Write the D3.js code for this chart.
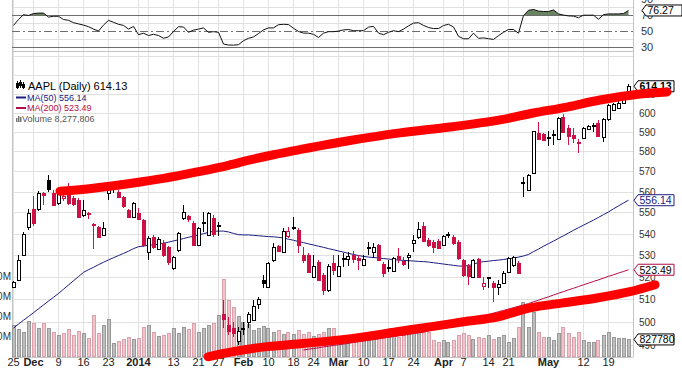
<!DOCTYPE html>
<html>
<head>
<meta charset="utf-8">
<script src="https://cdn.jsdelivr.net/npm/d3@7"></script>
<style>
  body { margin: 0; background: #fff; }
  svg { display: block; }
  text { font-family: "Liberation Sans", Arial, sans-serif; }
</style>
</head>
<body>
<svg id="chart" width="682" height="368"></svg>
<script>
// ---- data (AAPL daily) ----
var dates = ('2013-11-25 2013-11-26 2013-11-27 2013-11-29 ' +
  '2013-12-02 2013-12-03 2013-12-04 2013-12-05 2013-12-06 2013-12-09 2013-12-10 2013-12-11 2013-12-12 2013-12-13 ' +
  '2013-12-16 2013-12-17 2013-12-18 2013-12-19 2013-12-20 2013-12-23 2013-12-24 2013-12-26 2013-12-27 2013-12-30 2013-12-31 ' +
  '2014-01-02 2014-01-03 2014-01-06 2014-01-07 2014-01-08 2014-01-09 2014-01-10 2014-01-13 2014-01-14 2014-01-15 ' +
  '2014-01-16 2014-01-17 2014-01-21 2014-01-22 2014-01-23 2014-01-24 2014-01-27 2014-01-28 2014-01-29 2014-01-30 2014-01-31 ' +
  '2014-02-03 2014-02-04 2014-02-05 2014-02-06 2014-02-07 2014-02-10 2014-02-11 2014-02-12 2014-02-13 2014-02-14 ' +
  '2014-02-18 2014-02-19 2014-02-20 2014-02-21 2014-02-24 2014-02-25 2014-02-26 2014-02-27 2014-02-28 ' +
  '2014-03-03 2014-03-04 2014-03-05 2014-03-06 2014-03-07 2014-03-10 2014-03-11 2014-03-12 2014-03-13 2014-03-14 ' +
  '2014-03-17 2014-03-18 2014-03-19 2014-03-20 2014-03-21 2014-03-24 2014-03-25 2014-03-26 2014-03-27 2014-03-28 2014-03-31 ' +
  '2014-04-01 2014-04-02 2014-04-03 2014-04-04 2014-04-07 2014-04-08 2014-04-09 2014-04-10 2014-04-11 2014-04-14 ' +
  '2014-04-15 2014-04-16 2014-04-17 2014-04-21 2014-04-22 2014-04-23 2014-04-24 2014-04-25 2014-04-28 2014-04-29 2014-04-30 ' +
  '2014-05-01 2014-05-02 2014-05-05 2014-05-06 2014-05-07 2014-05-08 2014-05-09 2014-05-12 2014-05-13 2014-05-14 ' +
  '2014-05-15 2014-05-16 2014-05-19 2014-05-20 2014-05-21 2014-05-22 2014-05-23').split(' ');

var opens = [515.9,519.0,530.3,543.4,552.0,552.0,559.7,566.0,559.7,554.8,
  557.0,558.7,557.3,556.3,549.1,549.8,544.3,543.4,539.6,559.7,
  563.9,560.2,557.7,551.5,548.1,550.0,546.7,531.7,538.7,533.1,
  535.9,534.0,524.4,532.6,547.6,548.5,545.3,534.9,545.5,539.6,
  547.6,544.3,503.9,499.1,497.8,492.0,497.6,500.4,501.3,507.9,
  519.0,515.9,528.0,534.5,531.7,539.2,543.2,542.0,530.3,530.3,
  520.4,527.1,521.3,514.5,526.7,520.8,528.9,528.5,530.3,528.9,
  525.8,533.8,531.7,534.9,526.2,524.9,523.1,529.8,527.6,529.4,
  535.9,538.7,543.9,537.3,536.3,536.8,534.9,539.8,538.7,536.3,
  528.0,525.3,520.4,528.5,516.3,520.0,517.7,515.9,517.7,522.6,
  525.8,526.7,564.9,561.1,569.5,589.7,589.1,587.8,589.3,586.6,
  597.9,592.2,588.6,584.8,587.1,591.7,593.8,594.8,587.6,596.9,
  601.6,602.6,605.2,610.5];
var highs = [518.5,530.3,541.0,552.0,558.0,560.5,560.2,568.5,561.0,561.0,
  559.0,564.6,558.0,557.0,556.3,550.5,545.3,544.0,545.7,564.1,
  565.1,561.0,558.0,552.0,555.5,552.5,547.0,539.0,539.5,538.5,
  537.0,534.5,530.0,541.0,553.9,549.1,546.0,543.5,550.5,550.5,
  549.1,545.7,510.1,502.6,500.4,498.0,500.4,504.8,510.1,511.4,
  521.3,527.1,535.9,535.0,542.9,543.4,548.1,543.0,534.0,531.0,
  530.3,528.0,522.0,526.0,530.3,530.3,531.2,531.7,532.2,530.3,
  530.3,536.3,535.9,535.5,527.1,528.0,529.5,533.5,529.4,531.2,
  539.6,545.7,545.7,538.0,537.3,537.5,539.6,541.0,539.5,537.3,
  528.5,526.0,528.5,529.0,520.4,520.4,518.5,519.0,523.0,529.4,
  529.8,527.5,567.5,569.0,590.7,595.3,589.5,590.7,591.2,598.0,
  599.5,593.8,592.2,586.5,592.7,594.0,594.8,596.3,597.4,604.8,
  605.5,606.3,609.0,615.3];
var lows = [515.5,518.5,529.8,542.0,544.0,551.0,553.9,560.2,553.4,554.0,
  556.0,553.9,553.5,547.5,548.1,547.2,533.1,538.0,539.0,556.3,
  559.7,557.0,552.5,547.5,547.5,546.5,534.0,528.0,533.0,532.5,
  529.5,525.8,523.5,531.7,546.5,545.7,534.5,534.5,541.0,539.0,
  538.7,539.2,497.4,494.8,493.6,490.5,494.8,497.8,500.8,506.1,
  515.4,515.4,527.1,531.5,531.2,538.2,542.0,531.2,526.7,522.0,
  520.0,518.5,512.3,513.6,521.3,520.4,524.9,525.3,526.7,523.5,
  525.3,530.3,528.9,527.5,520.4,522.6,522.5,526.7,525.3,524.0,
  531.7,537.8,536.3,534.0,531.2,533.0,534.5,538.2,535.0,528.0,
  520.4,516.8,520.0,519.9,514.5,515.4,509.2,512.3,517.0,522.2,
  524.9,521.5,557.7,560.5,569.0,586.0,585.5,583.0,583.5,586.0,
  589.7,583.5,584.5,579.5,586.5,591.0,590.2,587.6,585.1,596.0,
  601.0,602.0,604.5,610.0];
var closes = [518.1,528.0,540.1,550.0,545.3,559.7,558.7,561.6,553.9,560.2,
  558.0,554.8,554.3,548.1,551.5,549.3,544.8,538.7,542.9,563.6,
  563.8,557.7,553.4,548.1,554.8,547.2,534.9,538.2,534.0,537.8,
  530.3,527.1,529.4,540.6,550.5,547.0,534.9,542.9,545.0,550.0,
  540.1,543.8,501.7,496.1,495.3,496.5,497.2,503.9,507.4,510.5,
  517.7,526.7,534.0,532.2,541.5,541.3,542.9,534.9,528.0,522.6,
  525.3,519.0,514.5,525.3,523.5,525.3,528.6,529.8,528.5,528.0,
  528.5,533.5,534.0,528.0,522.2,524.6,528.9,528.5,526.2,530.3,
  537.3,542.4,536.8,534.9,534.0,533.7,539.2,539.6,535.9,528.9,
  521.3,520.8,528.0,520.4,517.7,519.9,515.9,517.2,522.2,528.9,
  529.2,522.2,564.6,568.5,590.5,586.6,586.1,587.4,589.0,597.4,
  590.2,588.1,587.1,585.3,592.2,593.3,593.5,588.1,596.9,604.2,
  604.5,605.5,608.4,614.13];
var prevClose = 514.0;

// volume in millions of shares
var volumes = [15.5,13.3,12.2,17.5,16.3,13.8,16.3,13.8,12.2,10.5,
  11.3,13.3,10.5,12.3,11.3,8.8,20.5,11.7,15.5,18.3,
  6.7,7.7,8.3,9.7,8.3,8.8,14.7,15.5,12.2,10.0,
  10.5,11.7,13.8,11.7,14.7,13.3,16.3,12.2,13.8,15.5,
  16.3,20.5,38.5,28.0,24.7,20.0,17.0,16.0,13.0,14.0,
  15.0,14.0,12.0,13.0,11.0,12.0,11.0,13.0,11.0,12.0,
  10.0,11.0,12.0,14.0,14.2,9.7,10.0,8.0,7.2,8.0,
  8.8,9.7,11.3,11.3,12.2,10.5,11.3,9.7,10.5,11.3,
  13.0,13.8,14.7,12.2,8.0,7.2,8.0,7.2,8.0,10.5,
  11.3,10.5,8.3,9.7,8.8,10.5,8.3,9.7,10.5,7.2,
  8.8,14.7,27.2,14.7,22.2,12.2,9.7,9.7,8.0,11.3,
  14.7,11.3,9.7,12.2,8.0,7.2,7.2,8.0,10.5,12.2,
  9.7,8.8,8.8,8.28];

var ma50 = [497.6,499.3,501.0,502.6,504.3,506.0,507.7,509.4,511.1,512.8,
  514.7,516.6,518.5,520.4,522.3,523.5,524.6,525.8,526.9,528.0,
  529.0,530.0,531.0,532.0,533.2,534.1,534.4,534.7,535.0,535.2,
  535.7,536.2,536.8,537.3,537.9,538.5,539.0,539.6,540.2,540.8,
  541.3,541.4,541.4,541.0,540.3,539.7,539.6,539.6,539.4,539.2,
  539.0,538.8,538.7,538.5,538.1,537.6,537.1,536.5,536.0,535.4,
  534.9,534.3,533.8,533.2,532.7,532.1,531.6,531.0,530.5,530.0,
  529.6,529.3,529.1,528.9,528.6,528.4,528.1,527.9,527.8,527.6,
  527.5,527.3,527.2,527.0,526.7,526.4,526.1,525.8,525.5,525.2,
  525.1,525.4,526.0,526.8,527.2,527.4,527.7,527.9,528.2,528.5,
  528.8,529.3,529.8,530.5,531.8,533.0,534.3,535.5,536.7,538.0,
  539.2,540.5,541.8,543.0,544.2,545.4,546.6,547.9,549.2,550.5,
  552.0,553.4,554.8,556.14];

// MA(200) only enters the panel from 2014-02-19 on
var ma200Start = 58;
var ma200 = [488.2,488.5,488.8,489.1,489.5,489.8,490.1,490.4,490.7,491.0,
  491.4,491.7,492.0,492.3,492.6,492.9,493.3,493.6,493.9,494.2,
  494.5,494.8,495.2,495.5,495.8,496.4,497.0,497.6,498.2,498.8,
  499.4,500.0,500.6,501.2,501.8,502.3,502.9,503.5,504.1,504.7,
  505.3,505.9,506.5,507.1,507.7,508.3,509.1,509.8,510.6,511.3,
  512.1,512.9,513.6,514.4,515.1,515.9,516.7,517.4,518.2,518.9,
  519.7,520.5,521.2,522.0,522.7,523.49];

var rsi = [57.6,65,71,70,72.5,73,73,68,69,69,
  65,64,61,59.5,58,56,53,50.6,58,64,
  61.5,59,57.6,53,56.4,46,47.9,45,46.5,45,
  41.5,43.2,50,56,55.6,49,51.7,53,54.5,49,
  49.8,49,34.3,33.1,33,33.5,38.5,41.5,43.2,47.5,
  52,54.5,54.5,58.5,59,58.7,54,50,48,47.9,
  46.5,42.5,48,49.8,49.8,50.5,52,52.5,51,51,
  51,55.5,56.4,48,46,49,51,49.8,53,57,
  60.5,61,57.6,55,53.7,53.7,57.5,59,55.6,44,
  40.9,40.9,47.9,41.5,42,41,40.1,44.8,49,52.5,
  52.5,47.9,70,76.5,77.5,75.5,75,75,77,72,
  70.5,69.5,69.2,67.3,70.4,70.4,70.4,65.3,71,72,
  72,72,72.5,76.27];

var tickDates = ['2013-11-25','2013-12-02','2013-12-09','2013-12-16','2013-12-23','2014-01-02','2014-01-06',
  '2014-01-13','2014-01-21','2014-01-27','2014-02-03','2014-02-10','2014-02-18','2014-02-24','2014-03-03',
  '2014-03-10','2014-03-17','2014-03-24','2014-04-01','2014-04-07','2014-04-14','2014-04-21','2014-05-01',
  '2014-05-05','2014-05-12','2014-05-19'];
var tickLabels = ['25','Dec','9','16','23','2014','','13','21','27','Feb','10','18','24','Mar',
  '10','17','24','Apr','7','14','21','May','','12','19'];
var boldLabels = ['Dec','2014','Feb','Mar','Apr','May'];

var priceLabels = [490,500,510,520,530,540,550,560,570,580,590,600,610];
var priceGrid = [490,500,510,520,530,540,550,560,570,580,590,600,610,620,630];
var volLabels = [10,20,30,40];
var rsiLabels = [30,50,70,90];
var rsiGrid = [40,60,80,90];

// hand drawn red trend marks, as [trading day index, price]
var upperTrend = [[9.3,560.5],[16,562.0],[23.3,564.3],[30,566.8],[37.3,570.3],[43,573.3],[47.3,576.0],
  [52,578.6],[57.3,581.2],[67.3,585.8],[77.3,589.7],[87.3,592.7],[97.3,596.4],[104,600],[110.7,603.1],
  [117.3,606.8],[125.3,610],[130.7,611.1]];
var lowerTrend = [[38.9,485.3],[43.9,487.5],[50.7,489.6],[57.3,490.8],[65.3,492.5],[70,493.8],[76.7,496.0],
  [83.3,498.1],[90,500.3],[96.7,502.4],[103.3,506.4],[110,508.6],[116.7,510.8],[123.3,513.6],[128.3,516.7]];

// ---- layout ----
var svg = d3.select('#chart');
var plotLeft = 12, plotRight = 633;
var rsiTop = -12, rsiBottom = 50, priceTop = 51, priceBottom = 357;
var RED = '#cc1144', NAVY = '#1c1c80', CRIMSON = '#b40a46';

var x = d3.scaleLinear().domain([0, dates.length - 1]).range([13.5, 628.5]);
var y = d3.scaleLog().domain([500, 600]).range([322.5, 113]);
var yVol = d3.scaleLinear().domain([0, 10]).range([356, 336]);
var yRsi = d3.scaleLinear().domain([30, 70]).range([47.5, 15.5]);
var crisp = function(v){ return Math.round(v - 0.5) + 0.5; };

var defs = svg.append('defs');
defs.append('clipPath').attr('id', 'clip-price').append('rect')
  .attr('x', plotLeft).attr('y', priceTop).attr('width', plotRight - plotLeft).attr('height', priceBottom - priceTop);
defs.append('clipPath').attr('id', 'clip-rsi').append('rect')
  .attr('x', plotLeft).attr('y', rsiTop).attr('width', plotRight - plotLeft).attr('height', rsiBottom - rsiTop);
defs.append('clipPath').attr('id', 'clip-ob').append('rect')
  .attr('x', plotLeft).attr('y', rsiTop).attr('width', plotRight - plotLeft).attr('height', yRsi(70) - rsiTop);

var tickIdx = tickDates.map(function(d){ return dates.indexOf(d); });

// grid
var grid = svg.append('g').attr('stroke', '#e1e1e1').attr('shape-rendering', 'crispEdges');
grid.selectAll('line.v').data(tickIdx).enter().append('line').attr('class', 'v')
  .attr('x1', function(d){ return crisp(x(d)); }).attr('x2', function(d){ return crisp(x(d)); })
  .attr('y1', rsiTop).attr('y2', priceBottom);
grid.selectAll('line.h').data(priceGrid).enter().append('line').attr('class', 'h')
  .attr('x1', plotLeft).attr('x2', plotRight)
  .attr('y1', function(d){ return crisp(y(d)); }).attr('y2', function(d){ return crisp(y(d)); })
  .attr('clip-path', 'url(#clip-price)');
grid.selectAll('line.r').data(rsiGrid).enter().append('line').attr('class', 'r')
  .attr('x1', plotLeft).attr('x2', plotRight)
  .attr('y1', function(d){ return crisp(yRsi(d)); }).attr('y2', function(d){ return crisp(yRsi(d)); });

// frames
var frame = svg.append('g').attr('stroke', '#c4c4c4').attr('shape-rendering', 'crispEdges');
frame.append('line').attr('x1', plotLeft + 0.5).attr('x2', plotLeft + 0.5).attr('y1', rsiTop).attr('y2', priceBottom);
frame.append('line').attr('x1', plotRight + 0.5).attr('x2', plotRight + 0.5).attr('y1', rsiTop).attr('y2', priceBottom);
frame.append('line').attr('x1', plotLeft).attr('x2', plotRight).attr('y1', priceTop + 0.5).attr('y2', priceTop + 0.5);
frame.append('line').attr('x1', plotLeft).attr('x2', plotRight).attr('y1', priceBottom + 0.5).attr('y2', priceBottom + 0.5);

// RSI panel
var rsiG = svg.append('g').attr('clip-path', 'url(#clip-rsi)');
rsiG.append('g').attr('clip-path', 'url(#clip-ob)').append('path')
  .datum(rsi)
  .attr('fill', '#68855f')
  .attr('d', d3.area().x(function(d, i){ return x(i); }).y0(yRsi(70)).y1(function(d){ return yRsi(d); }));
[30, 70].forEach(function(v){
  rsiG.append('line').attr('x1', plotLeft).attr('x2', plotRight)
    .attr('y1', yRsi(v)).attr('y2', yRsi(v)).attr('stroke', '#6e6e6e');
});
rsiG.append('line').attr('x1', plotLeft).attr('x2', plotRight)
  .attr('y1', yRsi(50)).attr('y2', yRsi(50)).attr('stroke', '#6e6e6e').attr('stroke-dasharray', '8,3,2,3');
rsiG.append('path').datum(rsi)
  .attr('fill', 'none').attr('stroke', '#111').attr('stroke-width', 1)
  .attr('d', d3.line().x(function(d, i){ return x(i); }).y(function(d){ return yRsi(d); }));

svg.append('g').selectAll('text').data(rsiLabels).enter().append('text')
  .attr('x', 641).attr('y', function(d){ return yRsi(d); }).attr('dy', '0.35em')
  .attr('font-size', 11).attr('fill', '#333').text(function(d){ return d; });

// volume bars
var isUp = closes.map(function(c, i){ return c >= (i ? closes[i - 1] : prevClose); });
svg.append('g').attr('clip-path', 'url(#clip-price)').attr('shape-rendering', 'crispEdges')
  .selectAll('rect').data(volumes).enter().append('rect')
  .attr('x', function(d, i){ return Math.round(x(i)) - 2; })
  .attr('width', 3)
  .attr('y', function(d){ return Math.round(yVol(d)); })
  .attr('height', function(d){ return 356 - Math.round(yVol(d)); })
  .attr('fill', function(d, i){ return isUp[i] ? '#bdbdbd' : '#f1c4cb'; })
  .attr('stroke', function(d, i){ return isUp[i] ? '#999' : '#d9a1ab'; });

// moving averages
var priceG = svg.append('g').attr('clip-path', 'url(#clip-price)');
priceG.append('path').datum(ma200)
  .attr('fill', 'none').attr('stroke', CRIMSON).attr('stroke-width', 1)
  .attr('d', d3.line().x(function(d, i){ return x(i + ma200Start); }).y(function(d){ return y(d); }));
priceG.append('path').datum(ma50)
  .attr('fill', 'none').attr('stroke', NAVY).attr('stroke-width', 1)
  .attr('d', d3.line().x(function(d, i){ return x(i); }).y(function(d){ return y(d); }));

// candles
var candle = priceG.selectAll('g.candle').data(closes).enter().append('g').attr('class', 'candle')
  .attr('shape-rendering', 'crispEdges');
var colorOf = function(i){ return isUp[i] ? '#000' : RED; };
candle.append('line')
  .attr('x1', function(d, i){ return crisp(x(i)); }).attr('x2', function(d, i){ return crisp(x(i)); })
  .attr('y1', function(d, i){ return Math.round(y(highs[i])); })
  .attr('y2', function(d, i){ return Math.round(y(lows[i])); })
  .attr('stroke', function(d, i){ return colorOf(i); });
candle.append('rect')
  .attr('x', function(d, i){ return Math.round(x(i)) - 2; })
  .attr('width', 3)
  .attr('y', function(d, i){ return Math.round(y(Math.max(opens[i], d))); })
  .attr('height', function(d, i){
    return Math.max(1, Math.round(y(Math.min(opens[i], d))) - Math.round(y(Math.max(opens[i], d))));
  })
  .attr('fill', function(d, i){ return d > opens[i] ? '#fff' : colorOf(i); })
  .attr('stroke', function(d, i){ return colorOf(i); });

// right axis
svg.append('g').selectAll('text').data(priceLabels).enter().append('text')
  .attr('x', 639).attr('y', function(d){ return y(d); }).attr('dy', '0.35em')
  .attr('font-size', 10).attr('fill', '#333').text(function(d){ return d; });

// volume axis (left, mostly cut off)
svg.append('g').selectAll('text').data(volLabels).enter().append('text')
  .attr('x', 11).attr('y', function(d){ return yVol(d); }).attr('dy', '0.35em')
  .attr('text-anchor', 'end').attr('font-size', 10).attr('fill', '#333')
  .text(function(d){ return d + 'M'; });

// x axis labels
svg.append('g').selectAll('text').data(tickIdx).enter().append('text')
  .attr('x', function(d){ return x(d); }).attr('y', 366)
  .attr('text-anchor', 'middle').attr('font-size', 11).attr('fill', '#222')
  .attr('font-weight', function(d, i){ return boldLabels.indexOf(tickLabels[i]) >= 0 ? 'bold' : 'normal'; })
  .text(function(d, i){ return tickLabels[i]; });

// value tags on the right
function tag(xTip, yPos, label, border, textColor, bold){
  var g = svg.append('g');
  var h = 5.5, w = 36;
  g.append('path')
    .attr('d', 'M' + xTip + ',' + yPos + 'L' + (xTip + 4) + ',' + (yPos - h) + 'H' + (xTip + 4 + w) +
      'V' + (yPos + h) + 'H' + (xTip + 4) + 'Z')
    .attr('fill', '#fff').attr('stroke', border).attr('stroke-width', 1);
  g.append('text').attr('x', xTip + 5.5).attr('y', yPos).attr('dy', '0.36em')
    .attr('font-size', 10.5).attr('font-weight', bold ? 'bold' : 'normal')
    .attr('fill', textColor).text(label);
}
tag(634, y(closes[closes.length - 1]), d3.format('.2f')(closes[closes.length - 1]), '#000', '#000', true);
tag(634, y(ma50[ma50.length - 1]), d3.format('.2f')(ma50[ma50.length - 1]), NAVY, NAVY, false);
tag(634, y(ma200[ma200.length - 1]), d3.format('.2f')(ma200[ma200.length - 1]), CRIMSON, '#000', false);
tag(634, yVol(volumes[volumes.length - 1]), '827780', '#000', '#000', false);
tag(642, yRsi(rsi[rsi.length - 1]), d3.format('.2f')(rsi[rsi.length - 1]), '#000', '#000', false);

// legend
var leg = svg.append('g');
var icon = leg.append('g').attr('stroke', '#000').attr('shape-rendering', 'crispEdges');
[[17.5, 81, 89, 83, 4], [20.5, 80, 88, 82, 3], [23.5, 82, 89, 84, 3]].forEach(function(c){
  icon.append('line').attr('x1', c[0]).attr('x2', c[0]).attr('y1', c[1]).attr('y2', c[2]);
  icon.append('rect').attr('x', c[0] - 1).attr('y', c[3]).attr('width', 2).attr('height', c[4]).attr('fill', '#000');
});
leg.append('text').attr('x', 28).attr('y', 89.5).attr('font-family', '"DejaVu Sans", Verdana, sans-serif')
  .attr('font-size', 11).attr('fill', '#000')
  .text('AAPL (Daily) ' + d3.format('.2f')(closes[closes.length - 1]));
leg.append('line').attr('x1', 16).attr('x2', 26).attr('y1', 97.5).attr('y2', 97.5)
  .attr('stroke', NAVY).attr('stroke-width', 2);
leg.append('text').attr('x', 27).attr('y', 100.5).attr('font-family', '"DejaVu Sans", Verdana, sans-serif')
  .attr('font-size', 9).attr('fill', NAVY).text('MA(50) ' + d3.format('.2f')(ma50[ma50.length - 1]));
leg.append('line').attr('x1', 16).attr('x2', 26).attr('y1', 108).attr('y2', 108)
  .attr('stroke', CRIMSON).attr('stroke-width', 2);
leg.append('text').attr('x', 27).attr('y', 111).attr('font-family', '"DejaVu Sans", Verdana, sans-serif')
  .attr('font-size', 9).attr('fill', CRIMSON).text('MA(200) ' + d3.format('.2f')(ma200[ma200.length - 1]));
[[16, 4], [18, 6], [20, 5]].forEach(function(b){
  leg.append('rect').attr('x', b[0]).attr('y', 122 - b[1]).attr('width', 1.5).attr('height', b[1]).attr('fill', '#777');
});
leg.append('text').attr('x', 22).attr('y', 121.5).attr('font-family', '"DejaVu Sans", Verdana, sans-serif')
  .attr('font-size', 9).attr('fill', '#555').text('Volume 8,277,806');

// hand drawn red trend marks
var trendLine = d3.line().curve(d3.curveCatmullRom)
  .x(function(d){ return x(d[0]); }).y(function(d){ return y(d[1]); });
[upperTrend, lowerTrend].forEach(function(t){
  svg.append('path').datum(t)
    .attr('fill', 'none').attr('stroke', '#ff0000').attr('stroke-width', 9)
    .attr('stroke-linecap', 'round').attr('stroke-linejoin', 'round')
    .attr('d', trendLine);
});
</script>
</body>
</html>
